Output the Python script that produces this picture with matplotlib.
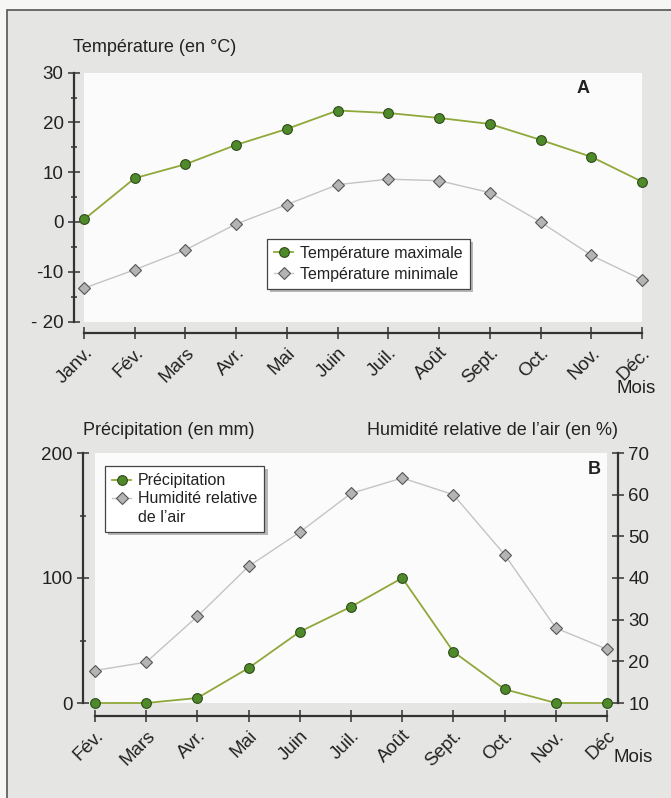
import matplotlib.pyplot as plt
from matplotlib.lines import Line2D
from matplotlib.patches import Rectangle
from matplotlib.ticker import MultipleLocator

plt.rcParams['font.family'] = ['Liberation Sans', 'DejaVu Sans']

# Données
mois_a = ['Janv.', 'Fév.', 'Mars', 'Avr.', 'Mai', 'Juin', 'Juil.', 'Août',
          'Sept.', 'Oct.', 'Nov.', 'Déc.']
t_max = [0.5, 8.8, 11.6, 15.5, 18.7, 22.4, 21.9, 20.9, 19.7, 16.5, 13.1, 8.1]
t_min = [-13.3, -9.6, -5.6, -0.4, 3.5, 7.5, 8.6, 8.3, 5.9, 0.0, -6.7, -11.6]

mois_b = ['Fév.', 'Mars', 'Avr.', 'Mai', 'Juin', 'Juil.', 'Août', 'Sept.',
          'Oct.', 'Nov.', 'Déc']
precip = [0, 0, 4, 28, 57, 77, 100, 41, 11, 0, 0]
humidite = [17.8, 19.8, 30.8, 42.8, 51, 60.3, 64, 60, 45.6, 28, 22.9]

W, H = 671, 798
bg = '#e5e5e3'
axc = '#333333'
txt = '#222222'
vert_line = '#8fa83a'
vert_fill = '#4f8a2a'
gris_line = '#c4c4c4'
gris_fill = '#b4b4b4'
fs_lab = 13       # titres d'axes
fs_tick = 13.5    # graduations
fs_leg = 11.5     # légendes

fig = plt.figure(figsize=(W / 100, H / 100), dpi=100)
fig.patch.set_facecolor('#f6f6f5')
fond = Rectangle((7 / W, -0.1), 1.2, (H - 10) / H + 0.1, transform=fig.transFigure,
                 facecolor=bg, edgecolor='#555555', linewidth=1.2, zorder=-10)
fig.patches.append(fond)


def box(x0, y0, x1, y1):
    # coordonnées en pixels depuis le coin haut-gauche
    return [x0 / W, (H - y1) / H, (x1 - x0) / W, (y1 - y0) / H]


def style(ax, cotes):
    ax.set_facecolor('#fbfbfb')
    for s in ['top', 'right', 'left', 'bottom']:
        ax.spines[s].set_visible(False)
    for s, off in cotes.items():
        ax.spines[s].set_visible(True)
        ax.spines[s].set_position(('outward', off))
        ax.spines[s].set_color(axc)
        ax.spines[s].set_linewidth(1.6)
    ax.tick_params(which='major', direction='inout', length=8, width=1.1,
                   color=axc, labelsize=fs_tick, labelcolor=txt)
    ax.tick_params(which='minor', direction='inout', length=5, width=1.1, color=axc)


ombre = {'ox': 2.5, 'oy': -2.5, 'facecolor': '#8a8a8a', 'edgecolor': 'none', 'alpha': 0.6}

# ---- Graphique A ----
ax1 = fig.add_axes(box(84, 72.7, 642, 321.5))
style(ax1, {'left': 7.2, 'bottom': 8.3})
x = list(range(len(mois_a)))
ax1.plot(x, t_max, color=vert_line, lw=1.3, marker='o', ms=7, mfc=vert_fill,
         mec='#2e4a1a', mew=0.8, clip_on=False, zorder=3, label='Température maximale')
ax1.plot(x, t_min, color=gris_line, lw=1.0, marker='D', ms=6.5, mfc=gris_fill,
         mec='#555555', mew=0.8, clip_on=False, zorder=3, label='Température minimale')
ax1.set_xlim(0, 11)
ax1.set_ylim(-20, 30)
ax1.set_yticks([-20, -10, 0, 10, 20, 30])
ax1.set_yticklabels(['- 20', '-10', '0', '10', '20', '30'])
ax1.yaxis.set_minor_locator(MultipleLocator(5))
ax1.set_xticks(x)
ax1.set_xticklabels(mois_a, rotation=45, ha='right', va='top', rotation_mode='anchor')
ax1.tick_params(axis='x', pad=4)
ax1.text(-0.02, 1.10, 'Température (en °C)', transform=ax1.transAxes,
         fontsize=fs_lab, ha='left', va='center', color=txt)
ax1.text(0.883, 0.935, 'A', transform=ax1.transAxes, fontsize=fs_lab, fontweight='bold',
         ha='left', va='center', color=txt)
ax1.text(1.025, -0.27, 'Mois', transform=ax1.transAxes, fontsize=fs_tick,
         ha='right', va='center', color=txt)
leg1 = ax1.legend(loc='upper left', bbox_to_anchor=(0.328, 0.332), borderaxespad=0,
                  fancybox=False, shadow=ombre, framealpha=1, edgecolor='#444444',
                  fontsize=fs_leg, handlelength=1.2, handletextpad=0.4, labelspacing=0.35,
                  borderpad=0.45)
leg1.get_frame().set_linewidth(0.9)
for t in leg1.get_texts():
    t.set_color(txt)

# ---- Graphique B ----
ax2 = fig.add_axes(box(95, 453, 607, 703))
style(ax2, {'left': 8.6, 'bottom': 9.4})
xb = list(range(len(mois_b)))
l_p, = ax2.plot(xb, precip, color=vert_line, lw=1.3, marker='o', ms=7, mfc=vert_fill,
                mec='#2e4a1a', mew=0.8, clip_on=False, zorder=4)
ax2.set_xlim(0, 10)
ax2.set_ylim(0, 200)
ax2.set_yticks([0, 100, 200])
ax2.yaxis.set_minor_locator(MultipleLocator(50))
ax2.set_xticks(xb)
ax2.set_xticklabels(mois_b, rotation=45, ha='right', va='top', rotation_mode='anchor')
ax2.tick_params(axis='x', pad=4)

ax3 = ax2.twinx()
for s in ['top', 'left', 'bottom']:
    ax3.spines[s].set_visible(False)
ax3.spines['right'].set_position(('outward', 7.9))
ax3.spines['right'].set_color(axc)
ax3.spines['right'].set_linewidth(1.6)
ax3.tick_params(which='major', direction='inout', length=8, width=1.1,
                color=axc, labelsize=fs_tick, labelcolor=txt)
l_h, = ax3.plot(xb, humidite, color=gris_line, lw=1.0, marker='D', ms=6.5, mfc=gris_fill,
                mec='#555555', mew=0.8, clip_on=False, zorder=3)
ax3.set_ylim(10, 70)
ax3.set_yticks(range(10, 71, 10))
ax2.set_zorder(ax3.get_zorder() + 1)
ax2.patch.set_visible(False)
ax3.patch.set_visible(True)
ax3.patch.set_facecolor('#fbfbfb')

ax2.text(-0.023, 1.092, 'Précipitation (en mm)', transform=ax2.transAxes,
         fontsize=fs_lab, ha='left', va='center', color=txt)
ax2.text(1.021, 1.092, 'Humidité relative de l’air (en %)', transform=ax2.transAxes,
         fontsize=fs_lab, ha='right', va='center', color=txt)
ax2.text(0.988, 0.935, 'B', transform=ax2.transAxes, fontsize=fs_lab, fontweight='bold',
         ha='right', va='center', color=txt)
ax2.text(1.09, -0.216, 'Mois', transform=ax2.transAxes, fontsize=fs_tick,
         ha='right', va='center', color=txt)
vide = Line2D([], [], color='none')
leg2 = ax2.legend([l_p, l_h, vide], ['Précipitation', 'Humidité relative', 'de l’air'],
                  loc='upper left', bbox_to_anchor=(0.0195, 0.948), borderaxespad=0,
                  fancybox=False, shadow=ombre, framealpha=1, edgecolor='#444444',
                  fontsize=fs_leg, handlelength=1.2, handletextpad=0.4, labelspacing=0.2,
                  borderpad=0.45)
leg2.get_frame().set_linewidth(0.9)
for t in leg2.get_texts():
    t.set_color(txt)

fig.savefig('out.png', dpi=100, facecolor=fig.get_facecolor())
